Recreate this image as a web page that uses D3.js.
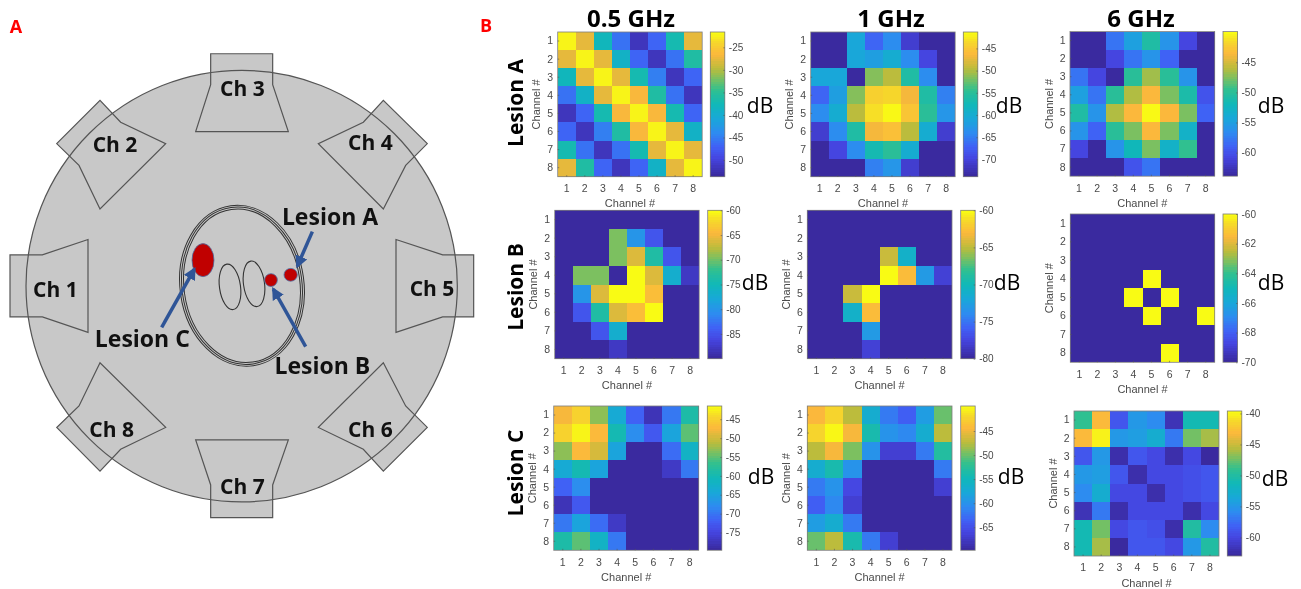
<!DOCTYPE html>
<html><head><meta charset="utf-8">
<script src="https://cdn.jsdelivr.net/npm/d3@7/dist/d3.min.js"></script>
<style>html,body{margin:0;padding:0;background:#fff}svg{display:block}</style>
</head><body><svg id="chart" width="1301" height="589"></svg>
<script>
// ---------- data ----------
const channels = [1,2,3,4,5,6,7,8];
const frequencies = ["0.5 GHz","1 GHz","6 GHz"];
const lesions = ["Lesion A","Lesion B","Lesion C"];

const lesionA05 = [
[-22,-27.5,-38,-46,-52,-47,-37,-27.5],
[-27.5,-22,-27.5,-39,-47,-52,-46,-36],
[-38,-27.5,-22,-27.5,-37,-45,-52,-47],
[-46,-39,-27.5,-22,-26.5,-36,-46,-52],
[-52,-47,-37,-26.5,-22,-26.5,-37,-47],
[-47,-52,-45,-36,-26.5,-22,-27.5,-39],
[-37,-46,-52,-46,-37,-27.5,-22,-27.5],
[-27.5,-36,-47,-52,-47,-39,-27.5,-22]];
const lesionA1 = [
[-74,-74,-61,-67,-64,-71,-74,-74],
[-74,-74,-61,-62,-60,-64,-70,-74],
[-61,-61,-74,-51.4,-49.5,-56,-64,-74],
[-67,-62,-51.4,-44,-43.5,-46.5,-56,-65],
[-64,-60,-49.5,-43,-41.5,-45,-55,-63],
[-71,-64,-56,-46.5,-45.5,-49.5,-60,-71],
[-74,-70,-64,-57,-55,-60,-74,-74],
[-74,-74,-74,-65,-63,-71,-74,-74]];
const lesionA6 = [
[-64,-64,-58,-55,-50.7,-56,-61,-64],
[-64,-64,-61,-58,-56,-59,-64,-64],
[-58,-61,-64,-50,-46.6,-50,-56,-64],
[-55,-58,-50,-46.2,-43.5,-47.6,-51,-60],
[-50.7,-56,-46.2,-43.5,-40,-43.5,-47.6,-59],
[-56,-59,-50,-47.6,-43.5,-47.6,-53,-64],
[-61,-64,-56,-52,-47.6,-53,-49.5,-64],
[-64,-64,-64,-60,-58,-64,-64,-64]];
const lesionB05 = [
[-90,-90,-90,-90,-90,-90,-90,-90],
[-90,-90,-90,-69.6,-80,-85,-90,-90],
[-90,-90,-90,-69.6,-66,-73.5,-85,-90],
[-90,-69.6,-69.6,-90,-60,-66,-77,-88],
[-90,-80,-66,-60,-60,-64,-90,-90],
[-90,-85,-73.5,-66,-64,-60,-90,-90],
[-90,-90,-85,-77,-90,-90,-90,-90],
[-90,-90,-90,-88,-90,-90,-90,-90]];
const lesionB1 = [
[-80,-80,-80,-80,-80,-80,-80,-80],
[-80,-80,-80,-80,-80,-80,-80,-80],
[-80,-80,-80,-80,-64.6,-71,-80,-80],
[-80,-80,-80,-80,-60,-62.8,-73,-78],
[-80,-80,-64.6,-60,-80,-80,-80,-80],
[-80,-80,-71,-62.8,-80,-80,-80,-80],
[-80,-80,-80,-73,-80,-80,-80,-80],
[-80,-80,-80,-78,-80,-80,-80,-80]];
const lesionB6 = [
[-70,-70,-70,-70,-70,-70,-70,-70],
[-70,-70,-70,-70,-70,-70,-70,-70],
[-70,-70,-70,-70,-70,-70,-70,-70],
[-70,-70,-70,-70,-60,-70,-70,-70],
[-70,-70,-70,-60,-70,-60,-70,-70],
[-70,-70,-70,-70,-60,-70,-70,-60],
[-70,-70,-70,-70,-70,-70,-70,-70],
[-70,-70,-70,-70,-70,-60,-70,-70]];
const lesionC05 = [
[-47.5,-44.5,-53,-64,-72,-78,-70,-59],
[-44.5,-42,-47,-60,-68,-73,-65,-55],
[-53,-47,-49.5,-65,-80,-80,-71,-62],
[-64,-60,-65,-80,-80,-80,-77,-70],
[-72,-68,-80,-80,-80,-80,-80,-80],
[-78,-73,-80,-80,-80,-80,-80,-80],
[-70,-65,-71,-77,-80,-80,-80,-80],
[-59,-55,-62,-70,-80,-80,-80,-80]];
const lesionC1 = [
[-44.3,-42,-47.3,-57,-62,-64,-59,-50],
[-42,-40,-44.5,-54,-60,-61,-57,-47.3],
[-47.3,-44.5,-49.4,-60,-67,-67,-62,-53],
[-57,-54,-60,-70,-70,-70,-70,-62],
[-62,-60,-66,-70,-70,-70,-70,-67],
[-64,-61,-67,-70,-70,-70,-70,-70],
[-59,-57,-62,-70,-70,-70,-70,-70],
[-50,-47.3,-54,-62,-67,-70,-70,-70]];
const lesionC6 = [
[-49,-43,-59,-55,-56,-62,-51,-51],
[-43,-40,-55,-54.5,-53,-57,-47.3,-46],
[-59,-55,-62.5,-59,-60,-62.5,-60,-63],
[-55,-54.5,-59,-62.5,-60,-60,-59.5,-59],
[-56,-53,-60,-60,-62.5,-60,-59.5,-59],
[-62,-57,-62.5,-60,-60,-60,-62.5,-60],
[-51,-47.3,-60,-59,-59.5,-62.5,-50,-56],
[-51,-46,-63,-59,-59,-60,-55,-50]];

const matrices = [lesionA05,lesionA1,lesionA6,lesionB05,lesionB1,lesionB6,lesionC05,lesionC1,lesionC6];
const colorDomains = [[-53.7,-21.6],[-73.9,-41.3],[-63.9,-39.9],[-90,-60],[-80,-60],[-70,-60],[-79.7,-41.5],[-69.8,-39.8],[-63,-39.6]];
const colorTicks = [
 [-50,-45,-40,-35,-30,-25],[-70,-65,-60,-55,-50,-45],[-60,-55,-50,-45],
 [-85,-80,-75,-70,-65,-60],[-80,-75,-70,-65,-60],[-70,-68,-66,-64,-62,-60],
 [-75,-70,-65,-60,-55,-50,-45],[-65,-60,-55,-50,-45],[-60,-55,-50,-45,-40]];

// parula colormap
const parulaStops = [0,.12,.2,.3,.4,.5,.6,.68,.75,.85,.93,1];
const parulaColors = ["#3a2a9f","#4545e0","#4060f5","#2d8cf0","#18a8d8","#10b8b8","#30c090","#7cc060","#bcbc3c","#fbb83c","#f6d52c","#f9fb14"];

// ---------- layout ----------
const panelLayout = [
 {x:557.7,y:32,w:144.5,h:144.7,bx:710.3,dx:760,dy:105},
 {x:810.7,y:32,w:144.5,h:144.7,bx:963.3,dx:1009,dy:105},
 {x:1070,y:31.5,w:144.7,h:144.7,bx:1223,dx:1271,dy:105},
 {x:554.7,y:210.3,w:144.5,h:148.4,bx:707.7,dx:755,dy:282},
 {x:807.3,y:210.3,w:144.7,h:148.4,bx:960.7,dx:1007,dy:282},
 {x:1070.3,y:214,w:144.4,h:148.3,bx:1223,dx:1271,dy:282},
 {x:553.7,y:406,w:145,h:144.3,bx:707.3,dx:761,dy:476},
 {x:807.3,y:406,w:144.7,h:144.3,bx:960.7,dx:1011,dy:476},
 {x:1074,y:411,w:145,h:145,bx:1227.3,dx:1275,dy:478}];
const barWidth = 14.5;

const svg = d3.select("#chart");
const heatFont = "'Liberation Sans', Arial, sans-serif";
const headFont = "'Open Sans', 'Noto Sans', sans-serif";
const tickGrey = "#4a4a4a";

const defs = svg.append("defs");
defs.append("filter").attr("id","soft").attr("x",0).attr("y",0).attr("width",1).attr("height",1)
  .attr("filterUnits","objectBoundingBox").attr("color-interpolation-filters","sRGB")
  .append("feGaussianBlur").attr("stdDeviation",.4);

const root = svg.append("g").attr("filter","url(#soft)");
root.append("rect").attr("width",1301).attr("height",589).attr("fill","#fff");

// ---------- panel A: schematic in drawing units ----------
const sx = d3.scaleLinear().domain([0,3]).range([0,1]);
const sy = d3.scaleLinear().domain([0,2.66]).range([0,1]);
const outline = d3.line().x(d=>sx(d[0])).y(d=>sy(d[1])).curve(d3.curveLinearClosed);
const hornShapes = [
 [[632,143],[818,143],[818,225],[865,350],[587,350],[632,225]],
 [[587,1170],[865,1170],[818,1290],[818,1377],[632,1377],[632,1290]],
 [[30,678],[127,678],[264,637],[264,884],[127,843],[30,843]],
 [[1421,678],[1328,678],[1188,637],[1188,884],[1328,843],[1421,843]],
 [[170,382],[300,267],[362,325],[497,382],[300,556],[237,440]],
 [[1282,382],[1150,267],[1090,325],[955,382],[1150,556],[1217,440]],
 [[170,1137],[300,1253],[362,1195],[497,1137],[300,965],[237,1080]],
 [[1282,1137],[1150,1253],[1090,1195],[955,1137],[1150,965],[1217,1080]]];
const bodyEllipse = {cx:725,cy:761,rx:647,ry:574};
const rings = [{rx:186,ry:215},{rx:180,ry:210},{rx:174,ry:205}];
const organs = [{cx:690,cy:763,rx:31.5,ry:61,a:-8},{cx:762,cy:755,rx:31.5,ry:61,a:-8}];
const lesionSpots = [{cx:609,cy:692,rx:33,ry:44},{cx:813,cy:745,rx:19,ry:17},{cx:872,cy:731,rx:20,ry:17}];
const lesionArrows = [
 {from:[937,616],to:[892,708]},
 {from:[917,922],to:[820,769]},
 {from:[485,871],to:[583,716]}];
const chLabels = [["Ch 1",166,768],["Ch 2",345,383],["Ch 3",727,235],["Ch 4",1111,378],
 ["Ch 5",1296,767],["Ch 6",1111,1140],["Ch 7",727,1294],["Ch 8",335,1140]];
const lesionLabels = [["Lesion A",990,575],["Lesion B",967,970],["Lesion C",427,900]];

defs.append("marker").attr("id","arrowHead").attr("viewBox","0 0 10 10").attr("refX",8).attr("refY",5)
  .attr("markerWidth",3.6).attr("markerHeight",3.6).attr("orient","auto")
  .append("path").attr("d","M0,0L10,5L0,10Z").attr("fill","#2f5597");

const gA = root.append("g");
gA.append("ellipse").attr("cx",sx(bodyEllipse.cx)).attr("cy",sy(bodyEllipse.cy))
  .attr("rx",sx(bodyEllipse.rx)).attr("ry",sy(bodyEllipse.ry)).attr("fill","#c8c8c8");
gA.selectAll("path.horn").data(hornShapes).join("path").attr("class","horn")
  .attr("d",outline).attr("fill","#c8c8c8").attr("stroke","#555").attr("stroke-width",1.2);
gA.append("ellipse").attr("cx",sx(bodyEllipse.cx)).attr("cy",sy(bodyEllipse.cy))
  .attr("rx",sx(bodyEllipse.rx)).attr("ry",sy(bodyEllipse.ry))
  .attr("fill","none").attr("stroke","#555").attr("stroke-width",1.2);
gA.selectAll("ellipse.ring").data(rings).join("ellipse").attr("class","ring")
  .attr("rx",d=>sx(d.rx)).attr("ry",d=>sy(d.ry))
  .attr("transform",`translate(${sx(726)},${sy(760)}) rotate(-8)`)
  .attr("fill","none").attr("stroke","#333").attr("stroke-width",1);
gA.selectAll("ellipse.organ").data(organs).join("ellipse").attr("class","organ")
  .attr("rx",d=>sx(d.rx)).attr("ry",d=>sy(d.ry))
  .attr("transform",d=>`translate(${sx(d.cx)},${sy(d.cy)}) rotate(${d.a})`)
  .attr("fill","none").attr("stroke","#333").attr("stroke-width",1.1);
gA.selectAll("ellipse.spot").data(lesionSpots).join("ellipse").attr("class","spot")
  .attr("cx",d=>sx(d.cx)).attr("cy",d=>sy(d.cy)).attr("rx",d=>sx(d.rx)).attr("ry",d=>sy(d.ry))
  .attr("fill","#c00000").attr("stroke","#4a6fa5").attr("stroke-width",.8);
gA.selectAll("line.arrow").data(lesionArrows).join("line").attr("class","arrow")
  .attr("x1",d=>sx(d.from[0])).attr("y1",d=>sy(d.from[1])).attr("x2",d=>sx(d.to[0])).attr("y2",d=>sy(d.to[1]))
  .attr("stroke","#2f5597").attr("stroke-width",3.5).attr("marker-end","url(#arrowHead)");
gA.selectAll("text.ch").data(chLabels).join("text").attr("class","ch")
  .attr("x",d=>sx(d[1])).attr("y",d=>sy(d[2])).attr("text-anchor","middle").attr("dominant-baseline","central")
  .attr("font-family",headFont).attr("font-weight",700).attr("font-size",21).attr("fill","#111").text(d=>d[0]);
gA.selectAll("text.les").data(lesionLabels).join("text").attr("class","les")
  .attr("x",d=>sx(d[1])).attr("y",d=>sy(d[2])).attr("text-anchor","middle").attr("dominant-baseline","central")
  .attr("font-family",headFont).attr("font-weight",700).attr("font-size",23).attr("fill","#111").text(d=>d[0]);

// ---------- panel letters ----------
root.selectAll("text.letter").data([["A",16,26],["B",486,25]]).join("text").attr("class","letter")
  .attr("x",d=>d[1]).attr("y",d=>d[2]).attr("text-anchor","middle").attr("dominant-baseline","central")
  .attr("font-family",headFont).attr("font-weight",700).attr("font-size",18).attr("fill","#ff0000").text(d=>d[0]);

// ---------- column and row heads ----------
root.selectAll("text.freq").data(frequencies).join("text").attr("class","freq")
  .attr("x",(d,i)=>[631,891,1141][i]).attr("y",17).attr("text-anchor","middle").attr("dominant-baseline","central")
  .attr("font-family",headFont).attr("font-weight",700).attr("font-size",24).attr("fill","#000").text(d=>d);
root.selectAll("text.row").data(lesions).join("text").attr("class","row")
  .attr("transform",(d,i)=>`translate(515,${[103,287,473][i]}) rotate(-90)`)
  .attr("text-anchor","middle").attr("dominant-baseline","central")
  .attr("font-family",headFont).attr("font-weight",700).attr("font-size",21).attr("fill","#000").text(d=>d);

// ---------- heatmaps ----------
matrices.forEach((matrix,idx)=>{
  const L = panelLayout[idx];
  const domain = colorDomains[idx];
  const norm = d3.scaleLinear().domain(domain).range([0,1]).clamp(true);
  const parula = d3.scaleLinear().domain(parulaStops).range(parulaColors).interpolate(d3.interpolateRgb);
  const color = v=>parula(norm(v));
  const x = d3.scaleBand().domain(channels).range([L.x,L.x+L.w]);
  const y = d3.scaleBand().domain(channels).range([L.y,L.y+L.h]);
  const g = root.append("g");
  const cells = matrix.flatMap((row,r)=>row.map((v,c)=>({r:channels[r],c:channels[c],v})));
  g.selectAll("rect.cell").data(cells).join("rect").attr("class","cell")
    .attr("x",d=>x(d.c)).attr("y",d=>y(d.r)).attr("width",x.bandwidth()).attr("height",y.bandwidth())
    .attr("shape-rendering","crispEdges").attr("fill",d=>color(d.v));
  g.append("rect").attr("x",L.x).attr("y",L.y).attr("width",L.w).attr("height",L.h)
    .attr("fill","none").attr("stroke","#7d7d7d").attr("stroke-width",.8);

  const styleAxis = (a,size)=>{
    a.select(".domain").remove();
    a.selectAll("line").attr("stroke","#555").attr("stroke-width",.6);
    a.selectAll("text").attr("font-family",heatFont).attr("font-size",size).attr("fill",tickGrey);
  };
  g.append("g").attr("transform",`translate(0,${L.y+L.h})`)
    .call(d3.axisBottom(x).tickSize(-1.5).tickPadding(8)).call(styleAxis,10.5);
  g.append("g").attr("transform",`translate(${L.x},0)`)
    .call(d3.axisLeft(y).tickSize(-1.5).tickPadding(4.5)).call(styleAxis,10.5);
  g.append("text").attr("x",L.x+L.w/2).attr("y",L.y+L.h+26.5).attr("text-anchor","middle").attr("dominant-baseline","central")
    .attr("font-family",heatFont).attr("font-size",11).attr("fill",tickGrey).text("Channel #");
  g.append("text").attr("transform",`translate(${L.x-21.5},${L.y+L.h/2}) rotate(-90)`)
    .attr("text-anchor","middle").attr("dominant-baseline","central")
    .attr("font-family",heatFont).attr("font-size",11).attr("fill",tickGrey).text("Channel #");

  // colorbar
  const cb = d3.scaleLinear().domain(domain).range([L.y+L.h,L.y]);
  const levels = d3.range(64).map(i=>domain[0]+(domain[1]-domain[0])*i/63);
  const step = (domain[1]-domain[0])/64;
  g.selectAll("rect.lev").data(levels).join("rect").attr("class","lev")
    .attr("x",L.bx).attr("width",barWidth)
    .attr("y",(d,i)=>cb(domain[0]+step*(i+1))).attr("height",(d,i)=>cb(domain[0]+step*i)-cb(domain[0]+step*(i+1)))
    .attr("shape-rendering","crispEdges").attr("fill",d=>color(d));
  g.append("rect").attr("x",L.bx).attr("y",L.y).attr("width",barWidth).attr("height",L.h)
    .attr("fill","none").attr("stroke","#7d7d7d").attr("stroke-width",.8);
  g.append("g").attr("transform",`translate(${L.bx+barWidth},0)`)
    .call(d3.axisRight(cb).tickValues(colorTicks[idx]).tickFormat(d=>"-"+Math.abs(d)).tickSize(-1.5).tickPadding(4))
    .call(styleAxis,10);
  g.append("text").attr("x",L.dx).attr("y",L.dy).attr("text-anchor","middle").attr("dominant-baseline","central")
    .attr("font-family",headFont).attr("font-size",21).attr("fill","#000").text("dB");
});
</script></body></html>
